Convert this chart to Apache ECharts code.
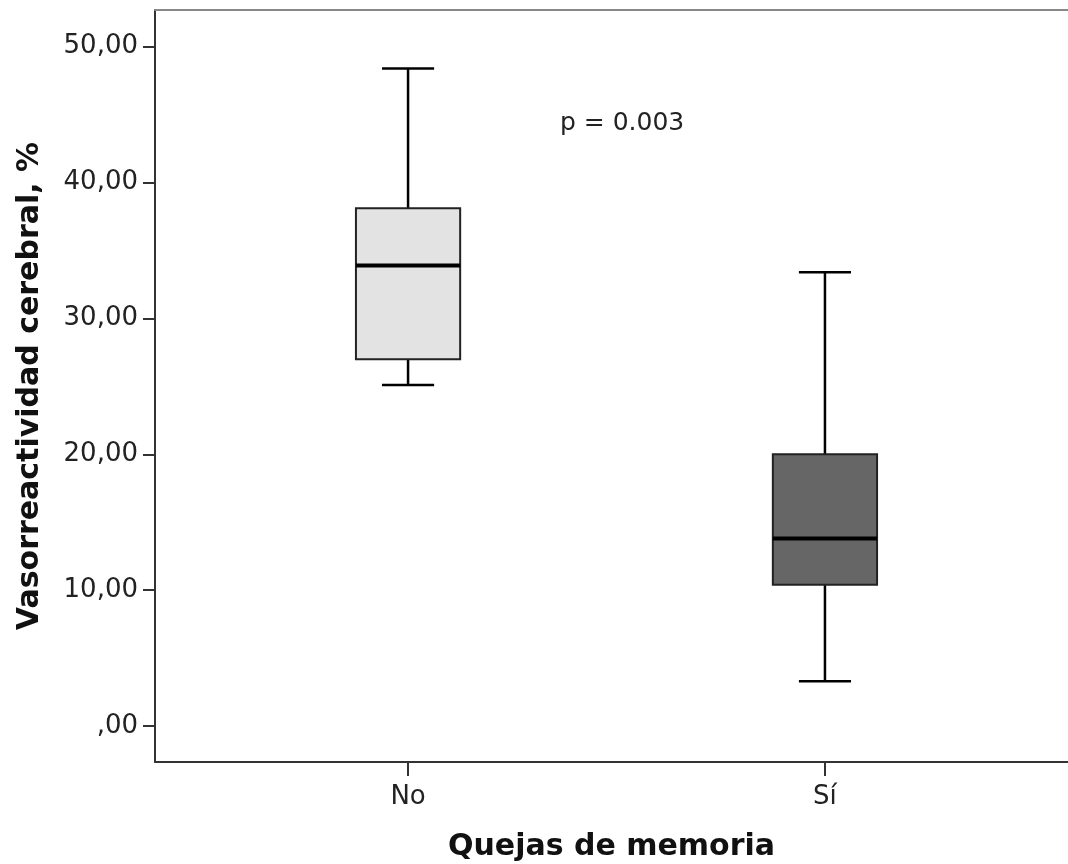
<!DOCTYPE html>
<html>
<head>
<meta charset="utf-8">
<script src="https://cdn.jsdelivr.net/npm/echarts@6/dist/echarts.min.js"></script>
<style>html,body{margin:0;padding:0;background:#fff}#c{width:1068px;height:864px}</style>
</head>
<body>
<div id="c"></div>
<script>
var categories = ['No', 'Sí'];
var whiskerLow = [25.1, 3.3];
var q1 = [27.0, 10.4];
var median = [33.9, 13.8];
var q3 = [38.1, 20.0];
var whiskerHigh = [48.4, 33.4];
var boxFill = ['#e3e3e3', '#666666'];
var yTicks = [0, 10, 20, 30, 40, 50];
var pText = 'p = 0.003';

var data = categories.map(function (c, i) {
  return [i, whiskerLow[i], q1[i], median[i], q3[i], whiskerHigh[i]];
});

function fmt(v) {
  var s = v.toFixed(2).replace('.', ',');
  if (s.indexOf('0,') === 0) s = s.slice(1);
  return s;
}

var font = '"DejaVu Sans", sans-serif';
var chart = echarts.init(document.getElementById('c'), null, {renderer: 'canvas'});
chart.setOption({
  animation: false,
  backgroundColor: '#fff',
  grid: {left: 155, top: 10, right: 0, height: 752, outerBoundsMode: 'none'},
  xAxis: [{
    type: 'value', min: -0.607, max: 1.583, position: 'bottom',
    name: 'Quejas de memoria', nameLocation: 'middle', nameGap: 70,
    nameTextStyle: {fontFamily: font, fontWeight: 'bold', fontSize: 30, color: '#111'},
    axisLine: {show: true, onZero: false, lineStyle: {color: '#333', width: 2}},
    axisTick: {show: true, inside: false, length: 14, lineStyle: {color: '#333', width: 2}, customValues: [0, 1]},
    axisLabel: {show: true, customValues: [0, 1], margin: 22, fontFamily: font, fontSize: 26, color: '#222',
      formatter: function (v) { return categories[Math.round(v)]; }},
    splitLine: {show: false}
  }, {
    type: 'value', min: -0.607, max: 1.583, position: 'top',
    axisLine: {show: true, onZero: false, lineStyle: {color: '#888', width: 2}},
    axisTick: {show: false}, axisLabel: {show: false}, splitLine: {show: false}
  }],
  yAxis: {
    type: 'value', min: -2.65, max: 52.7,
    name: 'Vasorreactividad cerebral, %', nameLocation: 'middle', nameGap: 110,
    nameTextStyle: {fontFamily: font, fontWeight: 'bold', fontSize: 30, color: '#111'},
    axisLine: {show: true, onZero: false, lineStyle: {color: '#333', width: 2}},
    axisTick: {show: true, inside: false, length: 12, lineStyle: {color: '#333', width: 2}, customValues: yTicks},
    axisLabel: {show: true, customValues: yTicks, margin: 17, fontFamily: font, fontSize: 26, color: '#222',
      formatter: function (v) { return fmt(v); }},
    splitLine: {show: false}
  },
  graphic: [{
    type: 'text', left: 560, top: 111,
    style: {text: pText, font: '25px ' + font, fill: '#222'}
  }],
  series: [{
    type: 'custom',
    xAxisIndex: 0, yAxisIndex: 0,
    data: data,
    encode: {x: 0, y: [1, 2, 3, 4, 5]},
    renderItem: function (params, api) {
      var i = api.value(0);
      var pLow = api.coord([i, api.value(1)]);
      var pQ1 = api.coord([i, api.value(2)]);
      var pMed = api.coord([i, api.value(3)]);
      var pQ3 = api.coord([i, api.value(4)]);
      var pHigh = api.coord([i, api.value(5)]);
      var bw = api.size([0.25, 0])[0];
      var cw = bw / 2;
      var x = pQ1[0];
      var idx = params.dataIndex;
      var ws = {stroke: '#000', lineWidth: 2.5};
      return {
        type: 'group',
        children: [
          {type: 'line', shape: {x1: x, y1: pHigh[1], x2: x, y2: pQ3[1]}, style: ws},
          {type: 'line', shape: {x1: x, y1: pQ1[1], x2: x, y2: pLow[1]}, style: ws},
          {type: 'line', shape: {x1: x - cw / 2, y1: pHigh[1], x2: x + cw / 2, y2: pHigh[1]}, style: ws},
          {type: 'line', shape: {x1: x - cw / 2, y1: pLow[1], x2: x + cw / 2, y2: pLow[1]}, style: ws},
          {type: 'rect', shape: {x: x - bw / 2, y: pQ3[1], width: bw, height: pQ1[1] - pQ3[1]},
            style: {fill: boxFill[idx], stroke: '#222', lineWidth: 2}},
          {type: 'line', shape: {x1: x - bw / 2, y1: pMed[1], x2: x + bw / 2, y2: pMed[1]},
            style: {stroke: '#000', lineWidth: 4}}
        ]
      };
    }
  }]
});
</script>
</body>
</html>
